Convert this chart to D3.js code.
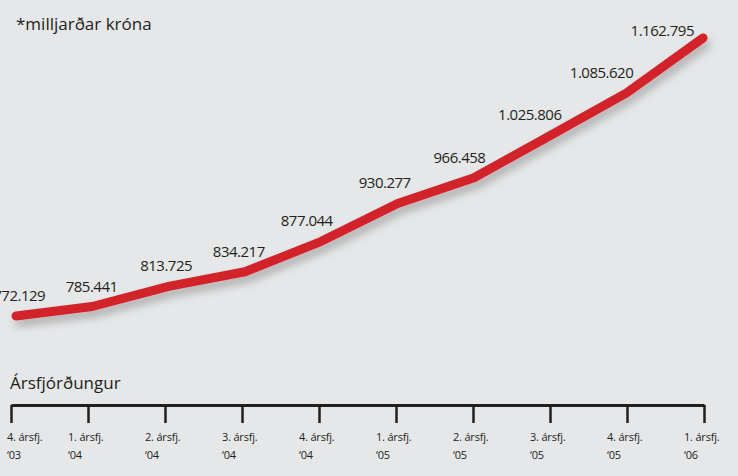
<!DOCTYPE html>
<html>
<head>
<meta charset="utf-8">
<script src="https://cdn.jsdelivr.net/npm/d3@7"></script>
<style>
  html, body { margin: 0; padding: 0; background: #e6e7e8; }
  svg { display: block; font-family: "Open Sans", "Noto Sans", sans-serif; }
  .lbl { fill: #231f20; font-size: 15px; letter-spacing: -0.5px; }
  .tick-lbl { fill: #231f20; font-size: 11px; letter-spacing: -0.2px; }
</style>
</head>
<body>
<div id="chart"></div>
<script>
// quarters and values (millions ISK)
var quarters = ["4. ársfj. '03", "1. ársfj. '04", "2. ársfj. '04", "3. ársfj. '04", "4. ársfj. '04",
                "1. ársfj. '05", "2. ársfj. '05", "3. ársfj. '05", "4. ársfj. '05", "1. ársfj. '06"];
var quarterNames = ["4. ársfj.", "1. ársfj.", "2. ársfj.", "3. ársfj.", "4. ársfj.",
                    "1. ársfj.", "2. ársfj.", "3. ársfj.", "4. ársfj.", "1. ársfj."];
var yearNames = ["‘03", "‘04", "‘04", "‘04", "‘04", "‘05", "‘05", "‘05", "‘05", "‘06"];
var values = [772129, 785441, 813725, 834217, 877044, 930277, 966458, 1025806, 1085620, 1162795];

var unitTitle = "*milljarðar króna";
var axisTitle = "Ársfjórðungur";

var w = 738,
    h = 476;

var isk = d3.formatLocale({ decimal: ",", thousands: ".", grouping: [3], currency: ["", " kr."] });
var fmt = isk.format(",d");

var svg = d3.select("#chart")
    .append("svg")
    .attr("width", w)
    .attr("height", h);

svg.append("rect")
    .attr("width", w)
    .attr("height", h)
    .attr("fill", "#e6e7e8");

var defs = svg.append("defs");
defs.append("filter")
    .attr("id", "shadow")
    .attr("x", "-10%").attr("y", "-10%")
    .attr("width", "120%").attr("height", "140%")
    .append("feDropShadow")
    .attr("dx", 3)
    .attr("dy", 6)
    .attr("stdDeviation", 4.5)
    .attr("flood-color", "#000")
    .attr("flood-opacity", 0.25);

// scales
var xAxisScale = d3.scalePoint().domain(quarters).range([11, 704]);
var x = d3.scalePoint().domain(quarters).range([16, 703]);
var y = d3.scaleLinear().domain([700000, 1200000]).range([367.3, 11.5]);

// title
svg.append("text")
    .attr("x", 16)
    .attr("y", 30)
    .attr("fill", "#231f20")
    .style("font-size", "17px")
    .text(unitTitle);

// line
var line = d3.line()
    .x(function (d, i) { return x(quarters[i]); })
    .y(function (d) { return y(d); });

svg.append("path")
    .datum(values)
    .attr("d", line)
    .attr("fill", "none")
    .attr("stroke", "#d2232a")
    .attr("stroke-width", 9)
    .attr("stroke-linecap", "round")
    .attr("stroke-linejoin", "round")
    .attr("filter", "url(#shadow)");

// value labels, pushed left where the line gets steep
function slopeAt(i) {
    var s = [];
    if (i > 0) s.push((y(values[i - 1]) - y(values[i])) / (x(quarters[i]) - x(quarters[i - 1])));
    if (i < values.length - 1) s.push((y(values[i]) - y(values[i + 1])) / (x(quarters[i + 1]) - x(quarters[i])));
    return d3.mean(s);
}

var last = values.length - 1;

svg.selectAll(".lbl")
    .data(values)
    .enter()
    .append("text")
    .attr("class", "lbl")
    .attr("text-anchor", function (d, i) { return i === last ? "end" : "middle"; })
    .attr("x", function (d, i) {
        if (i === last) return x(quarters[i]) - 9;
        return x(quarters[i]) + 10 - 55 * slopeAt(i);
    })
    .attr("y", function (d, i) { return i === last ? y(d) - 2 : y(d) - 15; })
    .text(function (d) { return fmt(d); });

// axis
svg.append("text")
    .attr("x", 10)
    .attr("y", 389)
    .attr("fill", "#231f20")
    .style("font-size", "17px")
    .text(axisTitle);

var xAxis = d3.axisBottom(xAxisScale)
    .tickSize(18)
    .tickSizeOuter(0)
    .tickFormat("");

var gx = svg.append("g")
    .attr("transform", "translate(0, 405)")
    .call(xAxis);

gx.select(".domain")
    .attr("stroke", "#231f20")
    .attr("stroke-width", 3);
gx.selectAll(".tick line")
    .attr("stroke", "#231f20")
    .attr("stroke-width", 2.5);

var tl = svg.selectAll(".tick-lbl")
    .data(quarters)
    .enter()
    .append("text")
    .attr("class", "tick-lbl")
    .attr("transform", function (d) {
        return "translate(" + Math.max(7, xAxisScale(d) - 20) + ", 441)";
    });

tl.append("tspan")
    .attr("x", 0)
    .attr("y", 0)
    .text(function (d, i) { return quarterNames[i]; });
tl.append("tspan")
    .attr("x", 0)
    .attr("y", 18)
    .text(function (d, i) { return yearNames[i]; });
</script>
</body>
</html>
